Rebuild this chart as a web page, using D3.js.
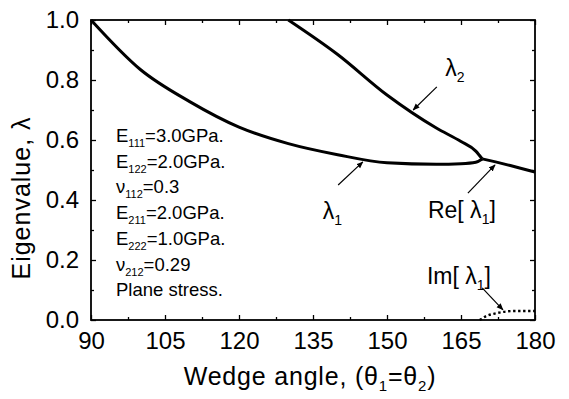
<!DOCTYPE html>
<html>
<head>
<meta charset="utf-8">
<script src="https://cdn.jsdelivr.net/npm/d3@7"></script>
<style>
  body { margin: 0; background: #fff; }
  svg { display: block; }
  text { font-family: "Liberation Sans", Arial, Helvetica, sans-serif; fill: #000; }
</style>
</head>
<body>
<svg id="chart" width="569" height="399"></svg>
<script>
// wedge angle (deg) and eigenvalue of each branch
const lam1Theta = [90, 100, 110, 120, 130, 140, 150, 160, 165, 168, 169.3];
const lam1Value = [1.0, 0.835, 0.728, 0.643, 0.588, 0.551, 0.524, 0.519, 0.521, 0.526, 0.537];
const lam2Theta = [130, 140, 150, 160, 165, 168, 169.3];
const lam2Value = [1.0, 0.885, 0.75, 0.64, 0.595, 0.563, 0.537];
const reTheta = [169.3, 172, 175, 180];
const reValue = [0.537, 0.527, 0.515, 0.493];
const imTheta = [168.8, 170, 172, 174, 176, 180];
const imValue = [0.0, 0.012, 0.022, 0.028, 0.03, 0.03];

const xTicks = [90, 105, 120, 135, 150, 165, 180];
const xMinor = [97.5, 112.5, 127.5, 142.5, 157.5, 172.5];
const yTicks = [0, 0.2, 0.4, 0.6, 0.8, 1.0];
const yMinor = [0.1, 0.3, 0.5, 0.7, 0.9];

const paramLines = [
  ["E", "111", "=3.0GPa."],
  ["E", "122", "=2.0GPa."],
  ["ν", "112", "=0.3"],
  ["E", "211", "=2.0GPa."],
  ["E", "222", "=1.0GPa."],
  ["ν", "212", "=0.29"],
  ["Plane stress.", "", ""]
];

// curve labels: [theta, value, main text, subscript, tail]
const curveLabels = [
  [161.8, 0.813, "λ", "2", ""],
  [137.0, 0.337, "λ", "1", ""],
  [158.3, 0.34, "Re[ λ", "1", "]"],
  [158.1, 0.12, "Im[ λ", "1", "]"]
];
// arrows: from [theta, value] to [theta, value]
const arrows = [
  [[160.1, 0.777], [155.3, 0.70]],
  [[140.1, 0.45], [145.1, 0.527]],
  [[166.4, 0.423], [171.9, 0.517]],
  [[169.3, 0.107], [173.5, 0.034]]
];

const svg = d3.select("#chart");
const width = +svg.attr("width");
const height = +svg.attr("height");
const margin = { top: 20, right: 34, bottom: 79, left: 91 };
const innerWidth = width - margin.left - margin.right;
const innerHeight = height - margin.top - margin.bottom;

const root = svg.append("g").attr("transform", `translate(${margin.left},${margin.top})`);

const x = d3.scaleLinear().domain([90, 180]).range([0, innerWidth]);
const y = d3.scaleLinear().domain([0, 1]).range([innerHeight, 0]);

svg.append("defs").append("marker")
  .attr("id", "head")
  .attr("viewBox", "0 0 10 10")
  .attr("refX", 9)
  .attr("refY", 5)
  .attr("markerWidth", 7)
  .attr("markerHeight", 7)
  .attr("markerUnits", "userSpaceOnUse")
  .attr("orient", "auto")
  .append("path")
  .attr("d", "M0,1 L10,5 L0,9 Z")
  .attr("fill", "#000");

// ticks pointing inward on all four sides
function styleAxis(g) {
  g.select(".domain").remove();
  g.selectAll("line").attr("stroke", "#000").attr("stroke-width", 1.3);
}
root.append("g").attr("transform", `translate(0,${innerHeight})`)
  .call(d3.axisBottom(x).tickValues(xTicks).tickSize(-5).tickPadding(12).tickFormat(d3.format("d")))
  .call(styleAxis)
  .call(g => g.selectAll("text").attr("font-size", 24).attr("dy", "0.71em").attr("fill", "#000"));
root.append("g").attr("transform", `translate(0,${innerHeight})`)
  .call(d3.axisBottom(x).tickValues(xMinor).tickSize(-3).tickFormat(""))
  .call(styleAxis);
root.append("g")
  .call(d3.axisTop(x).tickValues(xTicks).tickSize(-5).tickFormat(""))
  .call(styleAxis);
root.append("g")
  .call(d3.axisTop(x).tickValues(xMinor).tickSize(-3).tickFormat(""))
  .call(styleAxis);
root.append("g")
  .call(d3.axisLeft(y).tickValues(yTicks).tickSize(-5).tickPadding(12).tickFormat(d3.format(".1f")))
  .call(styleAxis)
  .call(g => g.selectAll("text").attr("font-size", 24).attr("fill", "#000"));
root.append("g")
  .call(d3.axisLeft(y).tickValues(yMinor).tickSize(-3).tickFormat(""))
  .call(styleAxis);
root.append("g").attr("transform", `translate(${innerWidth},0)`)
  .call(d3.axisRight(y).tickValues(yTicks).tickSize(-5).tickFormat(""))
  .call(styleAxis);
root.append("g").attr("transform", `translate(${innerWidth},0)`)
  .call(d3.axisRight(y).tickValues(yMinor).tickSize(-3).tickFormat(""))
  .call(styleAxis);

root.append("rect")
  .attr("width", innerWidth)
  .attr("height", innerHeight)
  .attr("fill", "none")
  .attr("stroke", "#000")
  .attr("stroke-width", 1.8);

const line = d3.line().x(d => x(d[0])).y(d => y(d[1])).curve(d3.curveMonotoneX);
const zip = (a, b) => a.map((v, i) => [v, b[i]]);

[[lam1Theta, lam1Value], [lam2Theta, lam2Value], [reTheta, reValue]].forEach(([t, v]) => {
  root.append("path")
    .datum(zip(t, v))
    .attr("fill", "none")
    .attr("stroke", "#000")
    .attr("stroke-width", 3)
    .attr("stroke-linejoin", "round")
    .attr("d", line);
});

root.append("path")
  .datum(zip(imTheta, imValue))
  .attr("fill", "none")
  .attr("stroke", "#000")
  .attr("stroke-width", 2.4)
  .attr("stroke-dasharray", "2.4,2.6")
  .attr("d", line);

root.selectAll(".arrow")
  .data(arrows)
  .join("line")
  .attr("class", "arrow")
  .attr("x1", d => x(d[0][0]))
  .attr("y1", d => y(d[0][1]))
  .attr("x2", d => x(d[1][0]))
  .attr("y2", d => y(d[1][1]))
  .attr("stroke", "#000")
  .attr("stroke-width", 1.2)
  .attr("marker-end", "url(#head)");

curveLabels.forEach(([t, v, main, sub, tail]) => {
  const txt = root.append("text")
    .attr("x", x(t))
    .attr("y", y(v))
    .attr("font-size", 23);
  txt.append("tspan").text(main);
  txt.append("tspan").attr("font-size", 14).attr("dy", 6).text(sub);
  txt.append("tspan").attr("dy", -6).text(tail);
});

paramLines.forEach(([main, sub, tail], i) => {
  const txt = root.append("text")
    .attr("x", 25)
    .attr("y", 122 + i * 25.7)
    .attr("font-size", 18.5);
  txt.append("tspan").text(main);
  if (sub) {
    txt.append("tspan").attr("font-size", 11).attr("dy", 5).text(sub);
    txt.append("tspan").attr("dy", -5).text(tail);
  }
});

// axis titles
const xTitle = svg.append("text")
  .attr("x", margin.left + innerWidth / 2 - 3)
  .attr("y", 385)
  .attr("text-anchor", "middle")
  .attr("letter-spacing", 0.8)
  .attr("font-size", 25);
xTitle.append("tspan").text("Wedge angle, (θ");
xTitle.append("tspan").attr("font-size", 15).attr("dy", 6).text("1");
xTitle.append("tspan").attr("dy", -6).text("=θ");
xTitle.append("tspan").attr("font-size", 15).attr("dy", 6).text("2");
xTitle.append("tspan").attr("dy", -6).text(")");

svg.append("text")
  .attr("transform", "rotate(-90)")
  .attr("x", -198)
  .attr("y", 30)
  .attr("text-anchor", "middle")
  .attr("letter-spacing", 1)
  .attr("font-size", 25)
  .text("Eigenvalue, λ");
</script>
</body>
</html>
